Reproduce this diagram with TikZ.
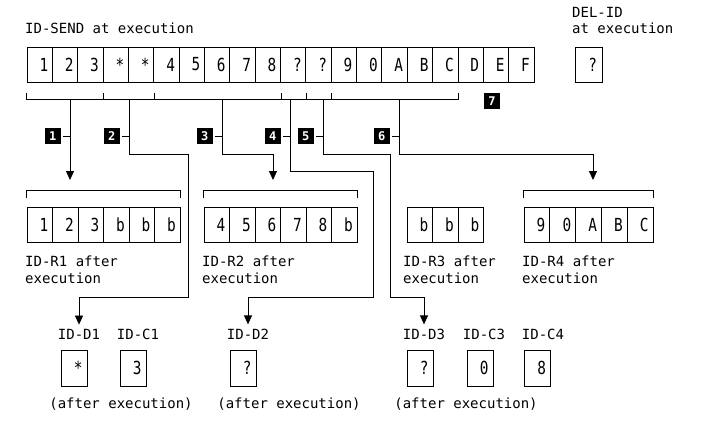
\documentclass[tikz,border=0pt]{standalone}
\usepackage{fontspec}
\usetikzlibrary{arrows.meta,positioning}
\newfontfamily\ibmfont{DejaVu Sans Mono}
\newfontfamily\cellfont[FakeStretch=0.8]{DejaVu Sans Mono}
\tikzset{
    cellbox/.style={draw, line width=0.9pt, minimum height=35pt, inner xsep=4pt, inner ysep=0pt,
            text width=17pt, align=right, font=\cellfont\fontsize{18}{18}\selectfont},
    numbox/.style={fill=black, text=white, minimum size=16pt, inner sep=0pt,
            font=\ibmfont\bfseries\fontsize{12}{12}\selectfont},
    caption/.style={inner sep=0pt, align=left, font=\ibmfont\fontsize{14}{16.5}\selectfont},
    fieldname/.style={caption, inner ysep=4pt},
    link/.style={line width=0.8pt},
    drop/.style={link, -{Triangle[length=9pt,width=8pt]}},
}
\begin{document}
\begin{tikzpicture}[x=1pt, y=-1pt]
        \useasboundingbox (0,0) rectangle (727,428);
        %draw sending field and DEL-ID
        \node[caption, anchor=base west] (sendlab) at (25,34) {ID-SEND at execution};
        \foreach \v [count=\i] in {1,2,3,*,*,4,5,6,7,8,?,?,9,0,A,B,C,D,E,F}
            \node[cellbox, minimum width=25.35pt] (s\i) at ({27+25.35*(\i-0.5)},64.5) {\v};
        \node[caption, anchor=base west] (dellab) at (572,34) {DEL-ID\\at execution};
        \node[cellbox, minimum width=27pt] (del) at (588.5,64.5) {?};
        %draw bracket under ID-SEND
        \draw[link] ([yshift=-11pt]s1.south west) -- ([yshift=-17pt]s1.south west)
            -- ([yshift=-17pt]s17.south east) -- ([yshift=-11pt]s17.south east);
        \foreach \c in {3,5,10,11,12}
            \draw[link] ([yshift=-17pt]s\c.south east) -- ++(0,-6);
        \node[numbox] (n7) at (492,101) {7};
        %draw receiving fields
        \foreach \v [count=\i] in {1,2,3,b,b,b}
            \node[cellbox, minimum width=25.5pt] (ra\i) at ({27+25.5*(\i-0.5)},225) {\v};
        \foreach \v [count=\i] in {4,5,6,7,8,b}
            \node[cellbox, minimum width=25.5pt] (rb\i) at ({204+25.5*(\i-0.5)},225) {\v};
        \foreach \v [count=\i] in {b,b,b}
            \node[cellbox, minimum width=25.5pt] (rc\i) at ({407+25.5*(\i-0.5)},225) {\v};
        \foreach \v [count=\i] in {9,0,A,B,C}
            \node[cellbox, minimum width=25.8pt] (rd\i) at ({524+25.8*(\i-0.5)},225) {\v};
        \draw[link] ([yshift=9pt]ra1.north west) -- ++(0,-8) -| ([yshift=9pt]ra6.north east);
        \draw[link] ([yshift=9pt]rb1.north west) -- ++(0,-8) -| ([yshift=9pt]rb6.north east);
        \draw[link] ([yshift=9pt]rd1.north west) -- ++(0,-8) -| ([yshift=9pt]rd5.north east);
        \node[caption, anchor=base west] (ralab) at (25,283) {ID-R1 after\\execution};
        \node[caption, anchor=base west] (rblab) at (202,283) {ID-R2 after\\execution};
        \node[caption, anchor=base west] (rclab) at (403,283) {ID-R3 after\\execution};
        \node[caption, anchor=base west] (rdlab) at (522,283) {ID-R4 after\\execution};
        %draw delimiter and count fields
        \node[fieldname, anchor=base] (d1lab) at (79,339) {ID-D1};
        \node[fieldname, anchor=base] (c1lab) at (138,339) {ID-C1};
        \node[fieldname, anchor=base] (d2lab) at (248,339) {ID-D2};
        \node[fieldname, anchor=base] (d3lab) at (424,339) {ID-D3};
        \node[fieldname, anchor=base] (c3lab) at (484,339) {ID-C3};
        \node[fieldname, anchor=base] (c4lab) at (543,339) {ID-C4};
        \node[cellbox, minimum width=26pt, minimum height=36pt] (d1) at (74,368) {*};
        \node[cellbox, minimum width=26pt, minimum height=36pt] (c1) at (133,368) {3};
        \node[cellbox, minimum width=26pt, minimum height=36pt] (d2) at (243,368) {?};
        \node[cellbox, minimum width=26pt, minimum height=36pt] (d3) at (420,368) {?};
        \node[cellbox, minimum width=26pt, minimum height=36pt] (c3) at (480,368) {0};
        \node[cellbox, minimum width=26pt, minimum height=36pt] (c4) at (537.5,368) {8};
        \node[caption, anchor=base] (aft1) at (121,408) {(after execution)};
        \node[caption, anchor=base] (aft2) at (289,408) {(after execution)};
        \node[caption, anchor=base] (aft3) at (466,408) {(after execution)};
        %draw numbered connectors
        \foreach \k/\x in {1/70,2/129,3/222,4/290,5/323,6/399} {
            \coordinate (b\k) at (\x,99);
            \coordinate (m\k) at (\x,136);
            \node[numbox, left=9pt of m\k] (n\k) {\k};
            \draw[link] ([xshift=2pt]n\k.east) -- (m\k);
        }
        \coordinate (r1in) at (70,180);
        \coordinate (r2in) at (273,180);
        \coordinate (r4in) at (593,180);
        \draw[drop] (b1) -- (r1in);
        \draw[drop] (b2) |- (188,154) -- (188,297) -| (d1lab.north);
        \draw[drop] (b3) |- (273,154) -- (r2in);
        \draw[drop] (b4) |- (373,171) -- (373,297) -| (d2lab.north);
        \draw[drop] (b5) |- (390,154) -- (390,297) -| (d3lab.north);
        \draw[drop] (b6) |- (593,154) -- (r4in);
    \end{tikzpicture}
\end{document}
